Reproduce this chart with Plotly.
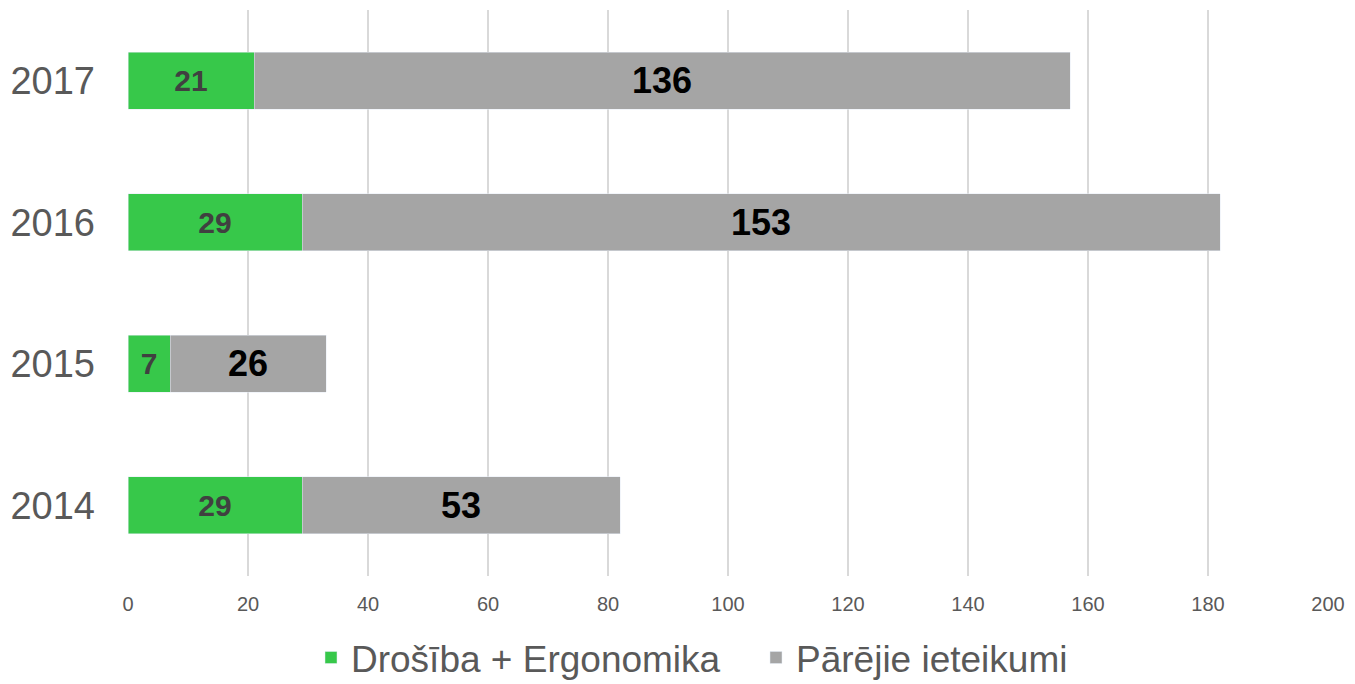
import plotly.graph_objects as go

years = ["2014", "2015", "2016", "2017"]
safety = [29, 7, 29, 21]
other = [53, 26, 153, 136]
x_ticks = list(range(0, 201, 20))

fig = go.Figure()
fig.add_trace(go.Bar(
    y=years, x=safety, orientation="h", name="Drošība + Ergonomika\u00a0\u00a0\u00a0",
    marker=dict(color="#37C84A"),
    text=safety, textposition="inside", insidetextanchor="middle",
    textfont=dict(size=30, color="#404040", family="Liberation Sans"),
    texttemplate="<b>%{text}</b>", constraintext="none",
))
fig.add_trace(go.Bar(
    y=years, x=other, orientation="h", name="Pārējie ieteikumi",
    marker=dict(color="#A5A5A5"),
    text=other, textposition="inside", insidetextanchor="middle",
    textfont=dict(size=36, color="#000000", family="Liberation Sans"),
    texttemplate="<b>%{text}</b>", constraintext="none",
))

# page body has an 8px margin, so the figure is a bit smaller than the window
fig.update_layout(
    barmode="stack", bargap=0.6,
    width=1347, height=676,
    margin=dict(l=120, r=27, t=2, b=108, autoexpand=False),
    paper_bgcolor="white", plot_bgcolor="white",
    font=dict(family="Liberation Sans", color="#595959"),
    legend=dict(orientation="h", x=0.47, xanchor="center", y=-0.09, yanchor="top",
                font=dict(size=37, color="#595959"), itemwidth=30,
                traceorder="normal"),
)
fig.update_xaxes(range=[0, 200], tickvals=x_ticks, showgrid=True, gridcolor="#D9D9D9",
                 gridwidth=1.5, zeroline=False, tickfont=dict(size=20, color="#595959"),
                 ticks="", ticklabelstandoff=14, showline=False, automargin=False)
fig.update_yaxes(tickfont=dict(size=38, color="#595959"), ticks="", ticklabelstandoff=32,
                 showline=False, automargin=False)

fig.write_html("out.html")
